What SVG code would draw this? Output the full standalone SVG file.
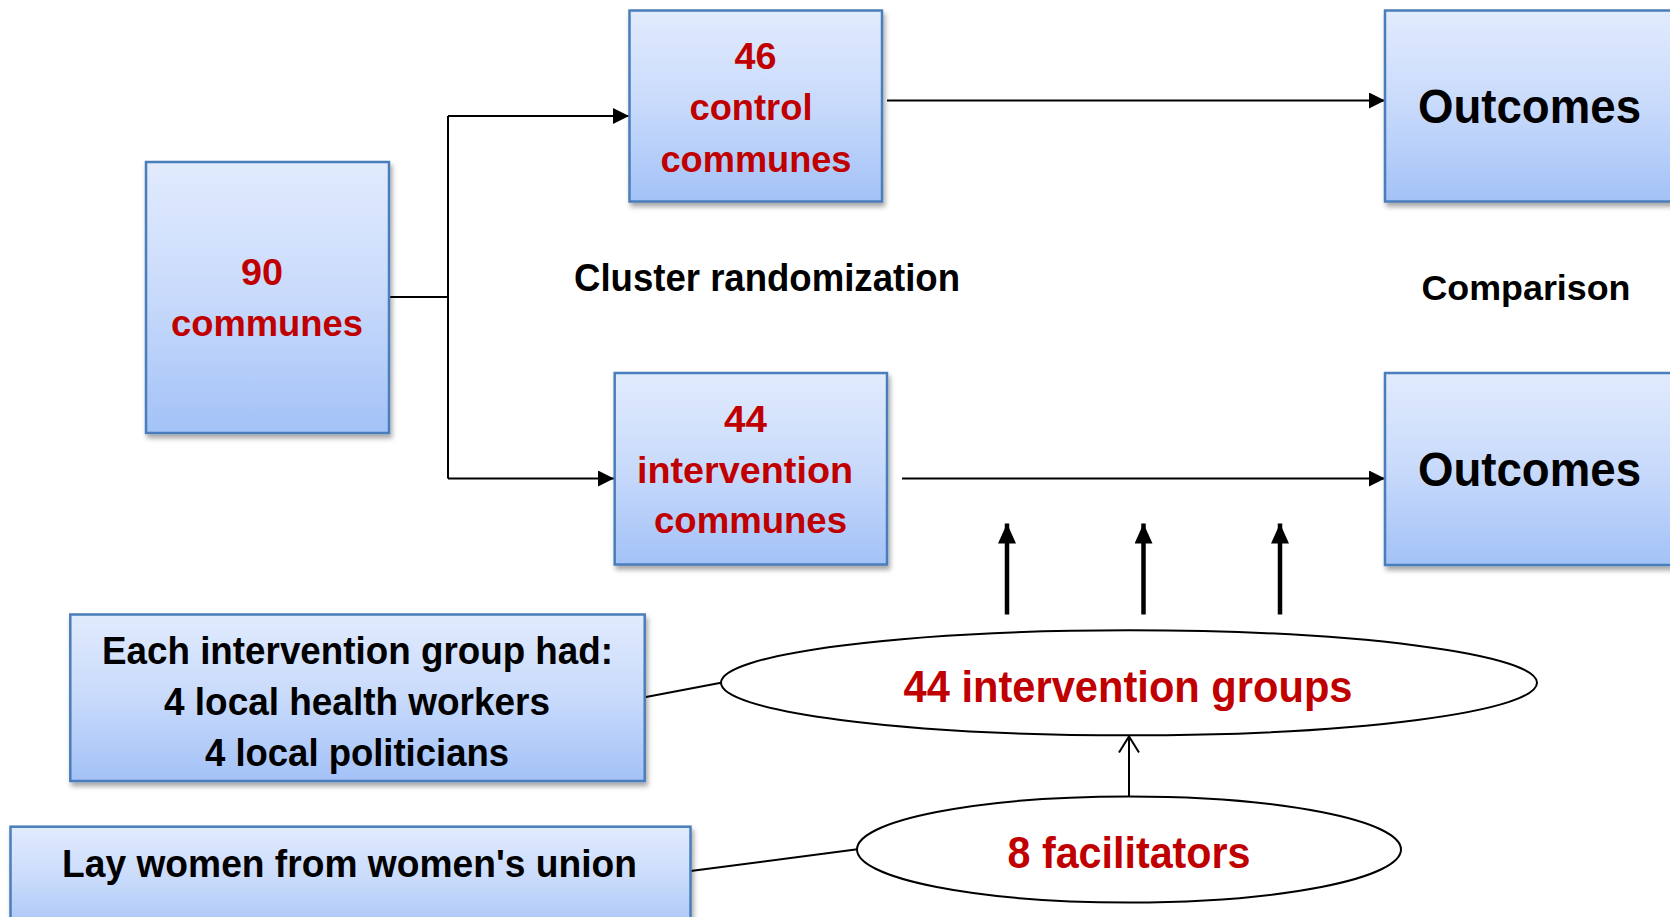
<svg xmlns="http://www.w3.org/2000/svg" width="1670" height="917" viewBox="0 0 1670 917">
<style>
  .box{fill:url(#g);stroke:#4a7ebb;stroke-width:2.5;filter:url(#sh)}
  .t{font-family:"Liberation Sans",Arial,sans-serif;font-weight:bold;text-anchor:middle}
  .red{fill:#c00000}
  .blk{fill:#000}
  .ln{stroke:#000;stroke-width:2;fill:none}
  .thick{stroke:#000;stroke-width:4.5;fill:none}
  .ell{fill:#fff;stroke:#000;stroke-width:2}
</style>
<defs>
  <linearGradient id="g" x1="0" y1="0" x2="0" y2="1">
    <stop offset="0" stop-color="#e1ebfd"/>
    <stop offset="0.5" stop-color="#c8dafb"/>
    <stop offset="1" stop-color="#a3c2f7"/>
  </linearGradient>
  <filter id="sh" x="-10%" y="-10%" width="130%" height="130%">
    <feDropShadow dx="2" dy="4" stdDeviation="2.5" flood-color="#000" flood-opacity="0.35"/>
  </filter>
  <marker id="ah" markerUnits="userSpaceOnUse" markerWidth="18" markerHeight="16" refX="16" refY="8" orient="auto">
    <path d="M0,0 L16,8 L0,16 Z" fill="#000"/>
  </marker>
  <marker id="ahb" markerUnits="userSpaceOnUse" markerWidth="22" markerHeight="18" refX="20" refY="9" orient="auto">
    <path d="M0,0 L20,9 L0,18 Z" fill="#000"/>
  </marker>
  <marker id="aho" markerUnits="userSpaceOnUse" markerWidth="20" markerHeight="24" refX="17" refY="11" orient="auto">
    <path d="M1,1 L17,11 L1,21" fill="none" stroke="#000" stroke-width="2"/>
  </marker>
</defs>
<rect width="1670" height="917" fill="#fff"/>

<g id="connectors">
  <polyline class="ln" points="389,297 448,297"/>
  <polyline class="ln" points="448,116 448,478.5"/>
  <line class="ln" x1="448" y1="116" x2="629" y2="116" marker-end="url(#ah)"/>
  <line class="ln" x1="448" y1="478.5" x2="614" y2="478.5" marker-end="url(#ah)"/>
  <line class="ln" x1="887" y1="100.5" x2="1385" y2="100.5" marker-end="url(#ah)"/>
  <line class="ln" x1="902" y1="478.5" x2="1385" y2="478.5" marker-end="url(#ah)"/>
  <line class="thick" x1="1007" y1="614.5" x2="1007" y2="523.5" marker-end="url(#ahb)"/>
  <line class="thick" x1="1143.5" y1="614.5" x2="1143.5" y2="523.5" marker-end="url(#ahb)"/>
  <line class="thick" x1="1280" y1="614.5" x2="1280" y2="523.5" marker-end="url(#ahb)"/>
  <line class="ln" x1="644.7" y1="697.3" x2="721" y2="682.7"/>
  <line class="ln" x1="690.6" y1="871" x2="857.5" y2="849.3"/>
  <line class="ln" x1="1129" y1="796.7" x2="1129" y2="736.5" marker-end="url(#aho)"/>
</g>

<g id="n90">
  <rect class="box" x="146" y="162" width="243" height="271"/>
  <text class="t red" x="262" y="285" font-size="37" textLength="42" lengthAdjust="spacingAndGlyphs">90</text>
  <text class="t red" x="267" y="336" font-size="37" textLength="192" lengthAdjust="spacingAndGlyphs">communes</text>
</g>

<g id="n46">
  <rect class="box" x="629.5" y="10.5" width="252.5" height="191"/>
  <text class="t red" x="755.5" y="68.5" font-size="37" textLength="42" lengthAdjust="spacingAndGlyphs">46</text>
  <text class="t red" x="751" y="120" font-size="37" textLength="123" lengthAdjust="spacingAndGlyphs">control</text>
  <text class="t red" x="756" y="171.7" font-size="37" textLength="191" lengthAdjust="spacingAndGlyphs">communes</text>
</g>

<g id="n44">
  <rect class="box" x="614.7" y="373" width="272.3" height="191.5"/>
  <text class="t red" x="745.5" y="431.7" font-size="37" textLength="43" lengthAdjust="spacingAndGlyphs">44</text>
  <text class="t red" x="745" y="483" font-size="37" textLength="216" lengthAdjust="spacingAndGlyphs">intervention</text>
  <text class="t red" x="750.5" y="533.3" font-size="37" textLength="193" lengthAdjust="spacingAndGlyphs">communes</text>
</g>

<g id="outTop">
  <rect class="box" x="1385" y="10.5" width="300" height="191"/>
  <text class="t blk" x="1529.5" y="123" font-size="48" textLength="223" lengthAdjust="spacingAndGlyphs">Outcomes</text>
</g>

<g id="outBottom">
  <rect class="box" x="1385" y="373" width="300" height="192"/>
  <text class="t blk" x="1529.5" y="486" font-size="48" textLength="223" lengthAdjust="spacingAndGlyphs">Outcomes</text>
</g>

<g id="lblCluster">
  <text class="t blk" x="767" y="291" font-size="38" textLength="386" lengthAdjust="spacingAndGlyphs">Cluster randomization</text>
</g>
<g id="lblComparison">
  <text class="t blk" x="1526" y="300" font-size="35" textLength="209" lengthAdjust="spacingAndGlyphs">Comparison</text>
</g>

<g id="nEach">
  <rect class="box" x="70.3" y="614.5" width="574.4" height="166.5"/>
  <text class="t blk" x="357.5" y="664.3" font-size="38" textLength="511" lengthAdjust="spacingAndGlyphs">Each intervention group had:</text>
  <text class="t blk" x="357" y="715" font-size="38" textLength="386" lengthAdjust="spacingAndGlyphs">4 local health workers</text>
  <text class="t blk" x="357" y="765.7" font-size="38" textLength="304" lengthAdjust="spacingAndGlyphs">4 local politicians</text>
</g>

<g id="nLay">
  <rect class="box" x="10.5" y="826.7" width="680" height="110"/>
  <text class="t blk" x="349.5" y="876.7" font-size="38.5" textLength="575" lengthAdjust="spacingAndGlyphs">Lay women from women's union</text>
</g>

<g id="nGroups">
  <ellipse class="ell" cx="1129" cy="682.8" rx="408" ry="52.5"/>
  <text class="t red" x="1128" y="701.7" font-size="44" textLength="449" lengthAdjust="spacingAndGlyphs">44 intervention groups</text>
</g>

<g id="nFacil">
  <ellipse class="ell" cx="1129" cy="849.5" rx="272" ry="53"/>
  <text class="t red" x="1129" y="868.3" font-size="44" textLength="243" lengthAdjust="spacingAndGlyphs">8 facilitators</text>
</g>
</svg>
